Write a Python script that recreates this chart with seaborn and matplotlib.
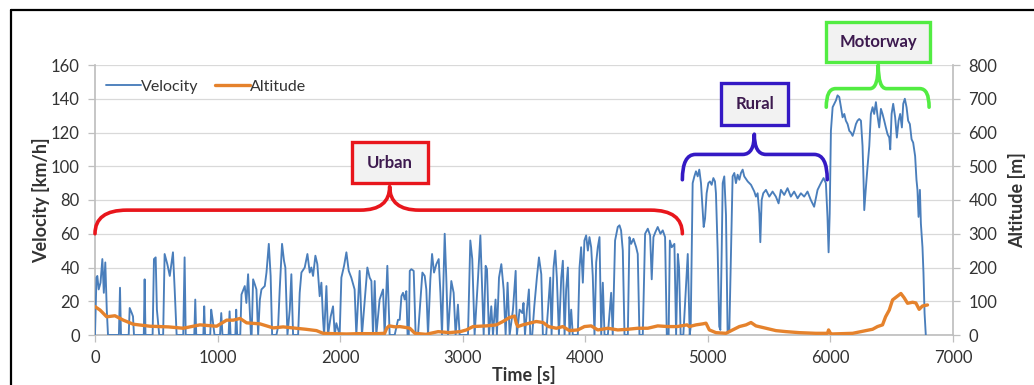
import numpy as np
import pandas as pd
import seaborn as sns
import matplotlib
matplotlib.use("Agg")
import matplotlib.pyplot as plt
from matplotlib.path import Path
from matplotlib.patches import PathPatch, Rectangle
from matplotlib.lines import Line2D

# ---------------- data ----------------
velocity_time = [
    0, 12, 19, 30, 45, 60, 72, 84, 96, 106,
    195, 204, 212,
    275, 283, 300, 310, 318,
    398, 405, 412,
    470, 481, 495, 505, 524,
    556, 568, 590, 610, 636, 650, 666,
    720, 731, 740,
    810, 818, 826,
    884, 891, 898,
    940, 948, 960, 975,
    1020, 1030, 1040,
    1090, 1098, 1106,
    1145, 1152, 1160,
    1185, 1195, 1222, 1235, 1249, 1262, 1272, 1278, 1290, 1304, 1317, 1331,
    1345, 1358, 1385, 1399, 1418, 1433, 1445, 1480, 1494, 1507, 1526, 1542,
    1553, 1570, 1589, 1602, 1616, 1657, 1670, 1684, 1711, 1733, 1752, 1765,
    1779, 1798, 1814, 1833, 1847, 1860, 1869, 1888, 1901, 1923, 1942, 1956,
    1969, 1996, 2010, 2032, 2051, 2070, 2091, 2118, 2132, 2159, 2178, 2205,
    2222, 2241, 2255, 2268, 2282, 2295, 2322, 2350, 2363, 2385, 2404, 2445,
    2472, 2486, 2500, 2513, 2527, 2540, 2550, 2560, 2568, 2581, 2600, 2616,
    2635, 2671, 2690, 2703, 2717, 2736, 2750, 2766, 2785, 2804, 2818, 2831,
    2853, 2866, 2880, 2907, 2926, 2942, 2961, 2975, 3043, 3062, 3078, 3097,
    3125, 3144, 3160, 3171, 3187, 3198, 3214, 3233, 3247, 3268, 3279, 3296,
    3315, 3334, 3350, 3366, 3383, 3410, 3432, 3442, 3464, 3486, 3496, 3508,
    3524, 3540, 3551, 3567, 3584, 3605, 3622, 3641, 3654, 3681, 3714, 3725,
    3741, 3755, 3768, 3785, 3804, 3817, 3831, 3844, 3858, 3871, 3885, 3898,
    3939, 3953, 3966, 3980, 3993, 4007, 4021, 4034, 4048, 4061, 4075, 4089,
    4102, 4116, 4130, 4143, 4157, 4184, 4211, 4224, 4243, 4265, 4279, 4292,
    4306, 4320, 4347, 4360, 4374, 4393, 4415, 4428, 4442, 4469, 4488, 4510,
    4529, 4542, 4556, 4572, 4591, 4613, 4632, 4651, 4665, 4680, 4690, 4705,
    4727, 4741, 4755, 4765, 4778, 4800, 4836, 4845, 4852, 4860, 4876, 4890,
    4903, 4917, 4930, 4944, 4958, 4966, 4977, 4990, 5004, 5017, 5031, 5045,
    5058, 5066, 5080, 5093, 5102, 5113, 5121, 5134, 5148, 5161, 5175, 5189,
    5202, 5216, 5229, 5243, 5257, 5270, 5284, 5297, 5325, 5352, 5379, 5392,
    5406, 5420, 5428, 5439, 5452, 5474, 5501, 5528, 5555, 5577, 5596, 5623,
    5650, 5677, 5704, 5732, 5759, 5786, 5813, 5840, 5867, 5895, 5922, 5944,
    5963, 5976, 5985, 5994, 6004, 6018, 6031, 6045, 6058, 6072, 6086, 6099,
    6113, 6126, 6140, 6154, 6167, 6181, 6194, 6208, 6221, 6235, 6249, 6262,
    6270, 6276, 6289, 6303, 6317, 6330, 6344, 6357, 6371, 6384, 6398, 6412,
    6425, 6439, 6452, 6466, 6480, 6488, 6499, 6512, 6528, 6542, 6556, 6569,
    6583, 6594, 6607, 6621, 6634, 6648, 6662, 6675, 6691, 6702, 6710, 6719,
    6730, 6738, 6751, 6759, 6768, 6778,
]
velocity_kmh = [
    0, 34, 35, 27, 31, 45, 25, 43, 15, 0,
    0, 28, 0,
    0, 16, 13, 11, 0,
    0, 33, 0,
    0, 45, 46, 15, 0,
    0, 48, 42, 35, 49, 27, 0,
    0, 46, 0,
    0, 21, 0,
    0, 17, 0,
    0, 15, 9, 0,
    0, 13, 0,
    0, 14, 0,
    0, 15, 0,
    0, 24, 29, 19, 36, 15, 0, 0, 33, 30, 27, 0,
    21, 27, 29, 37, 54, 35, 0, 0, 5, 27, 54, 44,
    40, 0, 15, 36, 0, 0, 25, 37, 40, 48, 37, 40,
    35, 47, 42, 23, 31, 10, 0, 29, 0, 11, 17, 0,
    7, 0, 34, 41, 49, 38, 34, 27, 0, 38, 0, 25,
    40, 34, 32, 0, 32, 0, 21, 27, 0, 41, 0, 0,
    9, 9, 23, 25, 21, 26, 0, 0, 38, 39, 38, 0,
    0, 37, 35, 27, 0, 33, 48, 37, 42, 45, 25, 0,
    60, 34, 0, 32, 25, 0, 18, 0, 0, 56, 45, 0,
    34, 59, 25, 0, 41, 39, 0, 17, 0, 21, 0, 34,
    42, 27, 0, 31, 0, 15, 38, 0, 15, 13, 19, 0,
    15, 27, 0, 0, 17, 34, 46, 36, 0, 0, 34, 0,
    40, 50, 34, 0, 34, 44, 0, 27, 40, 0, 15, 0,
    0, 40, 52, 31, 56, 59, 50, 58, 52, 35, 0, 43,
    52, 58, 0, 31, 0, 0, 25, 0, 56, 64, 65, 62,
    50, 0, 0, 58, 54, 57, 52, 48, 0, 0, 60, 63,
    59, 33, 58, 61, 64, 60, 62, 58, 0, 0, 56, 52,
    54, 0, 48, 40, 0, 0, 48, 20, 0, 5, 90, 94,
    97, 94, 98, 90, 74, 64, 69, 84, 90, 91, 89, 93,
    91, 84, 50, 5, 3, 50, 90, 94, 71, 2, 2, 50,
    94, 96, 90, 95, 92, 96, 98, 94, 91, 89, 85, 82,
    84, 72, 55, 80, 84, 86, 82, 85, 82, 78, 86, 83,
    87, 82, 85, 81, 84, 82, 85, 80, 76, 86, 90, 93,
    90, 70, 49, 72, 121, 135, 137, 139, 142, 141, 135, 129,
    131, 127, 125, 121, 120, 118, 121, 125, 127, 128, 127, 112,
    92, 74, 87, 100, 112, 131, 135, 131, 138, 130, 123, 134,
    131, 127, 123, 119, 117, 110, 131, 137, 129, 117, 127, 131,
    123, 137, 140, 135, 127, 125, 116, 114, 106, 92, 86, 70,
    86, 66, 52, 37, 13, 0,
]
altitude_time = [
    0, 41, 95, 163, 231, 312, 448, 600, 720, 856, 992, 1074, 1128, 1183,
    1237, 1346, 1454, 1535, 1640, 1720, 1807, 1861, 1943, 2051, 2150, 2300,
    2363, 2380, 2400, 2450, 2486, 2540, 2568, 2610, 2700, 2800, 2890, 2980,
    3030, 3084, 3190, 3274, 3328, 3383, 3423, 3437, 3450, 3490, 3545, 3600,
    3655, 3700, 3764, 3817, 3871, 3939, 3993, 4048, 4102, 4184, 4265, 4347,
    4428, 4510, 4591, 4672, 4750, 4830, 4849, 4903, 4958, 4985, 5012, 5066,
    5148, 5202, 5257, 5311, 5352, 5392, 5474, 5555, 5637, 5745, 5881, 5976,
    5985, 6000, 6005, 6181, 6249, 6289, 6344, 6384, 6425, 6450, 6480, 6507,
    6575, 6602, 6629, 6670, 6697, 6724, 6751, 6778, 6792,
]
altitude_m = [
    84, 74, 54, 57, 44, 32, 26, 24, 20, 30, 26, 44, 44, 49,
    36, 33, 21, 24, 20, 17, 13, 5, 4, 3, 4, 4,
    5, 20, 27, 24, 25, 22, 20, 5, 2, 10, 7, 10,
    15, 25, 27, 30, 40, 52, 56, 35, 25, 30, 35, 40,
    37, 25, 20, 25, 13, 15, 25, 27, 15, 20, 15, 17,
    20, 20, 27, 25, 25, 30, 25, 30, 33, 35, 15, 7,
    5, 15, 25, 30, 37, 27, 20, 13, 10, 7, 5, 5,
    15, 5, 3, 5, 10, 13, 17, 25, 30, 54, 74, 104,
    123, 110, 94, 97, 95, 76, 86, 88, 89,
]

x_ticks = [0, 1000, 2000, 3000, 4000, 5000, 6000, 7000]
vel_ticks = [0, 20, 40, 60, 80, 100, 120, 140, 160]
alt_ticks = [0, 100, 200, 300, 400, 500, 600, 700, 800]

# phase braces: label, start, end, centre (s); end / mid / top heights (km/h)
phase_labels = ["Urban", "Rural", "Motorway"]
phase_start = [0, 4792, 5966]
phase_end = [4792, 5974, 6805]
phase_centre = [2404, 5379, 6390]
brace_end_y = [60, 92, 135]
brace_mid_y = [74, 107, 146]
brace_top_y = [88, 119, 160]
box_x0 = [2094, 5110, 5966]
box_x1 = [2714, 5655, 6813]
box_y0 = [90, 124.4, 161.8]
box_y1 = [114.4, 149.3, 185.5]
phase_colors = ["#e8161c", "#3419c4", "#52ec42"]

# ---------------- figure ----------------
sns.set_theme(style="white")
plt.rcParams["font.family"] = ["Lato", "DejaVu Sans"]

W, H = 1034, 385
fig = plt.figure(figsize=(W / 100, H / 100), dpi=100)
ax = fig.add_axes([95 / W, 1 - 335 / H, (953 - 95) / W, (335 - 65) / H])
ax2 = ax.twinx()

vel_df = pd.DataFrame({"t": velocity_time, "v": velocity_kmh})
alt_df = pd.DataFrame({"t": altitude_time, "a": altitude_m})

vel_c = "#4a7ebb"
alt_c = "#e5822c"
sns.lineplot(data=vel_df, x="t", y="v", ax=ax, color=vel_c, lw=1.35,
             legend=False, zorder=3)
sns.lineplot(data=alt_df, x="t", y="a", ax=ax2, color=alt_c, lw=2.4,
             legend=False, zorder=3)

grid_c = "#d9d9d9"
axis_c = "#bfbfbf"
txt_c = "#333333"

ax.set_xlim(0, 7000)
ax.set_ylim(0, 160)
ax2.set_ylim(0, 800)
ax.set_xticks(x_ticks)
ax.set_yticks(vel_ticks)
ax2.set_yticks(alt_ticks)
ax.yaxis.grid(True, color=grid_c, lw=0.9)
ax.xaxis.grid(False)
ax2.grid(False)

for a in (ax, ax2):
    for s in a.spines.values():
        s.set_visible(False)
ax.spines["left"].set_visible(True)
ax.spines["left"].set_color(axis_c)
ax.spines["bottom"].set_visible(True)
ax.spines["bottom"].set_color(axis_c)
ax2.spines["right"].set_visible(True)
ax2.spines["right"].set_color(axis_c)

ax.tick_params(axis="both", which="both", direction="out", length=5, width=0.9,
               color=axis_c, labelsize=12, labelcolor=txt_c)
ax.tick_params(axis="y", left=True, pad=6)
ax.tick_params(axis="x", bottom=True, pad=6)
ax2.tick_params(axis="y", right=True, direction="out", length=5, width=0.9,
                color=axis_c, labelsize=12, labelcolor=txt_c, pad=6)

ax.set_xlabel("Time [s]", fontsize=13, fontweight="bold", color=txt_c)
ax.set_ylabel("Velocity [km/h]", fontsize=13, fontweight="bold", color=txt_c)
ax2.set_ylabel("Altitude [m]", fontsize=13, fontweight="bold", color=txt_c)
ax.xaxis.set_label_coords(0.5, -0.113)
ax.yaxis.set_label_coords(-0.052, 0.5)
ax2.yaxis.set_label_coords(1.064, 0.5)

handles = [Line2D([], [], color=vel_c, lw=1.35),
           Line2D([], [], color=alt_c, lw=2.4)]
leg = ax.legend(handles, ["Velocity", "Altitude"], loc="upper left",
                bbox_to_anchor=(-0.004, 1.0), ncol=2, frameon=False,
                fontsize=11.5, handlelength=2.2, handletextpad=0.0,
                columnspacing=1.0, labelcolor=txt_c)
ax2.set_zorder(ax.get_zorder() + 1)
ax2.patch.set_visible(False)


def brace_path(x0, x1, xm, ye, ym, yt):
    dxe = min(260, (x1 - x0) * 0.09)
    dxc = min(240, (x1 - x0) * 0.08)
    verts = [(x0, ye), (x0, ym), (x0 + dxe, ym),
             (xm - dxc, ym), (xm, ym), (xm, yt),
             (xm, ym), (xm + dxc, ym),
             (x1 - dxe, ym), (x1, ym), (x1, ye)]
    codes = [Path.MOVETO, Path.CURVE3, Path.CURVE3,
             Path.LINETO, Path.CURVE3, Path.CURVE3,
             Path.CURVE3, Path.CURVE3,
             Path.LINETO, Path.CURVE3, Path.CURVE3]
    return Path(verts, codes)


for i, lab in enumerate(phase_labels):
    p = brace_path(phase_start[i], phase_end[i], phase_centre[i],
                   brace_end_y[i], brace_mid_y[i], brace_top_y[i])
    ax.add_patch(PathPatch(p, fill=False, edgecolor=phase_colors[i], lw=2.6,
                           capstyle="round", joinstyle="round",
                           clip_on=False, zorder=5))
    ax.add_patch(Rectangle((box_x0[i], box_y0[i]), box_x1[i] - box_x0[i],
                           box_y1[i] - box_y0[i], facecolor="#f2f2f2",
                           edgecolor=phase_colors[i], lw=2.4, clip_on=False,
                           zorder=6))
    ax.text((box_x0[i] + box_x1[i]) / 2, (box_y0[i] + box_y1[i]) / 2, lab,
            ha="center", va="center", fontsize=12, fontweight="bold",
            color="#3d1a4f", zorder=7, clip_on=False)

# outer frame (left and top edges visible)
fig.add_artist(Line2D([11 / W, 11 / W], [0, 1 - 10 / H], color="black",
                      lw=1.6, transform=fig.transFigure))
fig.add_artist(Line2D([11 / W, 1.0], [1 - 10 / H, 1 - 10 / H], color="black",
                      lw=1.6, transform=fig.transFigure))

fig.savefig("out.png", dpi=100, facecolor="white")
